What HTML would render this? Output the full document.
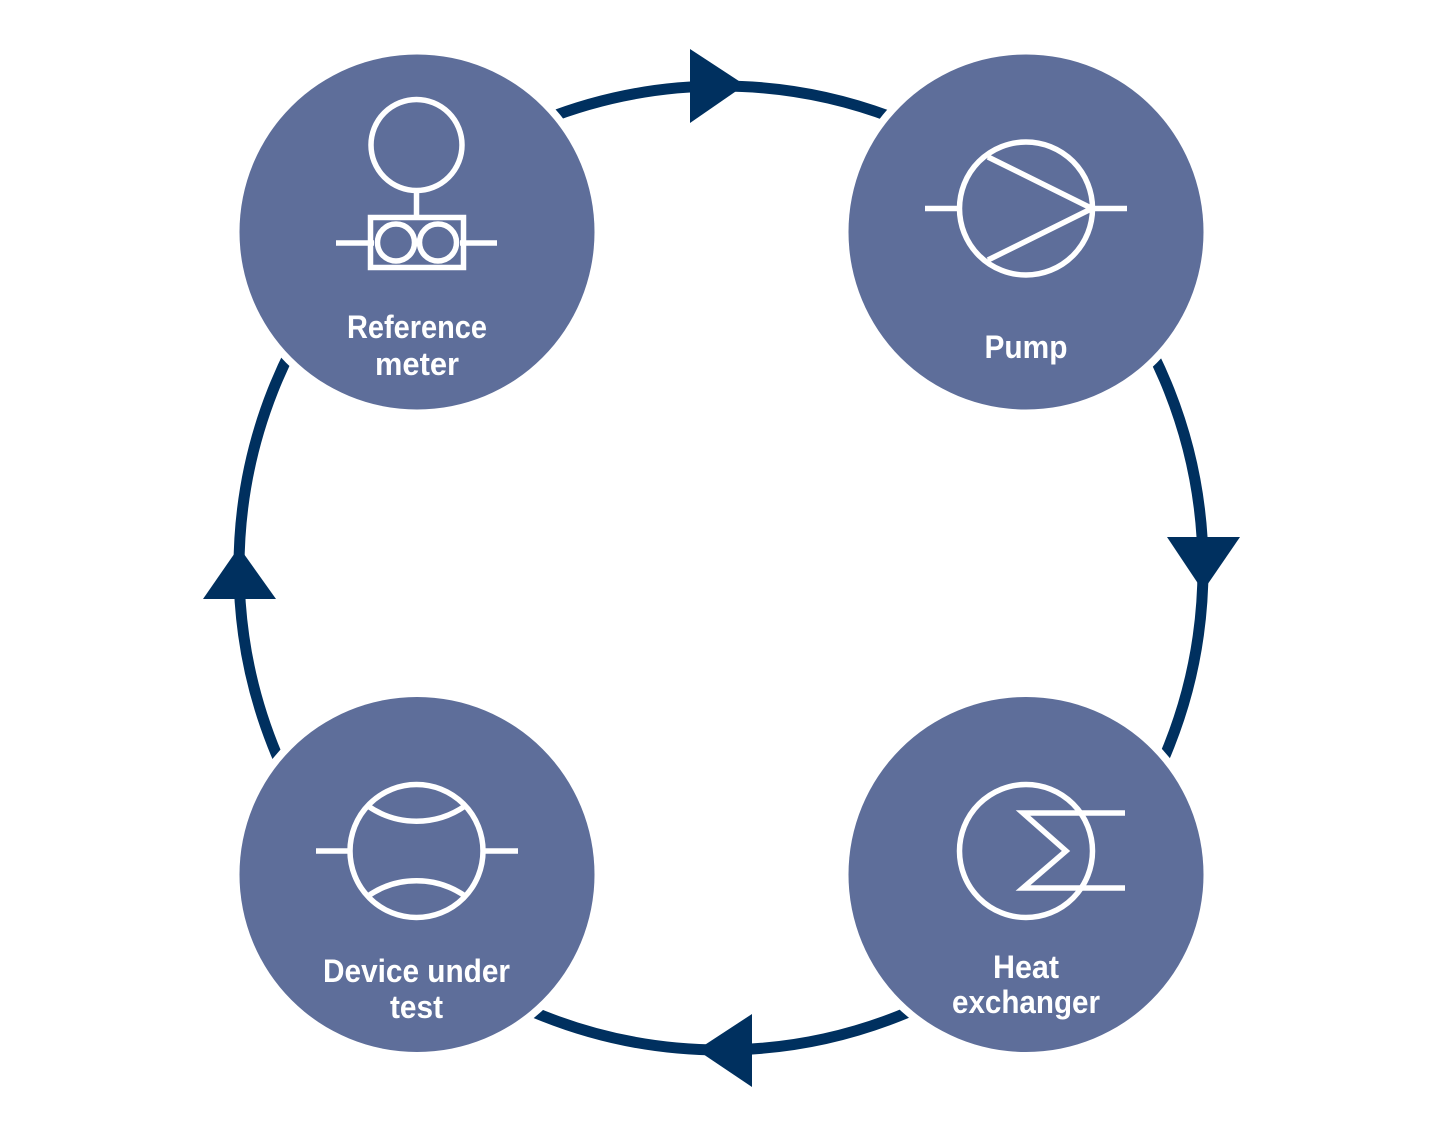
<!DOCTYPE html>
<html>
<head>
<meta charset="utf-8">
<style>
  html, body { margin:0; padding:0; background:#ffffff; }
  svg { display:block; }
  .lbl { font-family:"Liberation Sans", sans-serif; font-weight:bold; font-size:32px; fill:#ffffff; }
  .ic { fill:none; stroke:#ffffff; stroke-width:5.5; }
</style>
</head>
<body>
<svg width="1429" height="1132" viewBox="0 0 1429 1132" xmlns="http://www.w3.org/2000/svg">
  <!-- ring -->
  <circle cx="721" cy="568" r="482" fill="none" stroke="#00305f" stroke-width="11"/>
  <!-- arrowheads -->
  <polygon points="690,49 690,123 745,85" fill="#00305f"/>
  <polygon points="1167,537 1240,537 1203,591" fill="#00305f"/>
  <polygon points="752,1014 752,1087 697,1050" fill="#00305f"/>
  <polygon points="203,599 276,599 239,547" fill="#00305f"/>

  <!-- white gaps -->
  <circle cx="417" cy="232" r="185" fill="#ffffff"/>
  <circle cx="1026" cy="232" r="185" fill="#ffffff"/>
  <circle cx="417" cy="874.5" r="185" fill="#ffffff"/>
  <circle cx="1026" cy="874.5" r="185" fill="#ffffff"/>

  <!-- nodes -->
  <circle cx="417" cy="232" r="177.5" fill="#5e6e9a"/>
  <circle cx="1026" cy="232" r="177.5" fill="#5e6e9a"/>
  <circle cx="417" cy="874.5" r="177.5" fill="#5e6e9a"/>
  <circle cx="1026" cy="874.5" r="177.5" fill="#5e6e9a"/>

  <!-- Reference meter icon -->
  <circle class="ic" cx="416.5" cy="145" r="45.5"/>
  <line class="ic" x1="416.5" y1="190" x2="416.5" y2="218"/>
  <rect class="ic" x="370.5" y="217.5" width="93" height="50"/>
  <line class="ic" x1="336" y1="243" x2="374" y2="243"/>
  <line class="ic" x1="460" y1="243" x2="497" y2="243"/>
  <circle class="ic" cx="396" cy="242.5" r="18.5"/>
  <circle class="ic" cx="438" cy="242.5" r="18.5"/>

  <text class="lbl" x="417" y="338" text-anchor="middle" textLength="140" lengthAdjust="spacingAndGlyphs">Reference</text>
  <text class="lbl" x="417" y="375" text-anchor="middle" textLength="84" lengthAdjust="spacingAndGlyphs">meter</text>

  <!-- Pump icon -->
  <circle class="ic" cx="1026" cy="208.5" r="66.5"/>
  <line class="ic" x1="925" y1="208.5" x2="960" y2="208.5"/>
  <line class="ic" x1="1092" y1="208.5" x2="1127" y2="208.5"/>
  <polyline class="ic" points="988,157 1092,208.5 988,260" stroke-linejoin="miter"/>

  <text class="lbl" x="1026" y="358" text-anchor="middle" textLength="83" lengthAdjust="spacingAndGlyphs">Pump</text>

  <!-- Device under test icon -->
  <circle class="ic" cx="416.5" cy="851" r="66.5"/>
  <line class="ic" x1="316" y1="851" x2="350" y2="851"/>
  <line class="ic" x1="483" y1="851" x2="518" y2="851"/>
  <path class="ic" d="M 368 806 A 85 85 0 0 0 465 806"/>
  <path class="ic" d="M 368 896 A 85 85 0 0 1 465 896"/>

  <text class="lbl" x="416.5" y="982" text-anchor="middle" textLength="187" lengthAdjust="spacingAndGlyphs">Device under</text>
  <text class="lbl" x="416.5" y="1018" text-anchor="middle" textLength="53" lengthAdjust="spacingAndGlyphs">test</text>

  <!-- Heat exchanger icon -->
  <circle class="ic" cx="1026" cy="851" r="66.5"/>
  <polyline class="ic" points="1125,813 1023,813 1066,851 1023,888 1125,888" stroke-linejoin="miter" stroke-miterlimit="10"/>

  <text class="lbl" x="1026" y="978" text-anchor="middle" textLength="66" lengthAdjust="spacingAndGlyphs">Heat</text>
  <text class="lbl" x="1026" y="1013" text-anchor="middle" textLength="148" lengthAdjust="spacingAndGlyphs">exchanger</text>
</svg>
</body>
</html>
